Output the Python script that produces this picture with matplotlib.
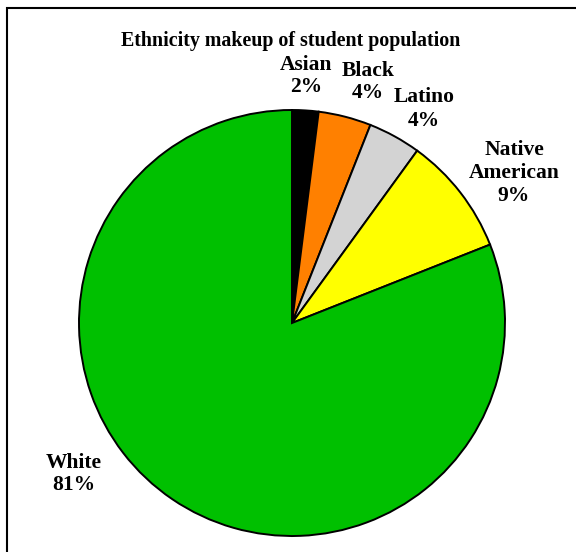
import matplotlib.pyplot as plt
from matplotlib.patches import Rectangle

plt.rcParams['font.family'] = ['Liberation Serif', 'DejaVu Serif']

groups = ["Asian", "Black", "Latino", "Native\nAmerican", "White"]
shares = [2, 4, 4, 9, 81]
colors = ["#000000", "#FF8000", "#D3D3D3", "#FFFF00", "#00C000"]

# label anchor points (pixel-style coords, y measured from bottom)
label_x = [306, 368, 424, 514, 74]
label_y = [476, 470, 443, 379, 78]

fig = plt.figure(figsize=(5.76, 5.52), dpi=100)
ax = fig.add_axes([0, 0, 1, 1])

ax.pie(shares, colors=colors, startangle=90, counterclock=False,
       center=(292, 229), radius=213, frame=True,
       wedgeprops=dict(edgecolor='black', linewidth=1.4))
ax.set_xlim(0, 576)
ax.set_ylim(0, 552)
ax.set_aspect('equal')
ax.axis('off')

for name, val, x, y in zip(groups, shares, label_x, label_y):
    ax.text(x, y, f"{name}\n{val}%", ha='center', va='center',
            fontsize=15.5, fontweight='bold', linespacing=1.2)

ax.text(291, 511, "Ethnicity makeup of student population", ha='center',
        va='center', fontsize=14.4, fontweight='bold')

# chart area border, clipped on the right and bottom
fig.patches.append(Rectangle((6.5 / 576, -0.1), 1.2, (552 - 7.5) / 552 + 0.1,
                             transform=fig.transFigure, fill=False,
                             edgecolor='black', linewidth=1.5))

fig.savefig("out.png", dpi=100)
